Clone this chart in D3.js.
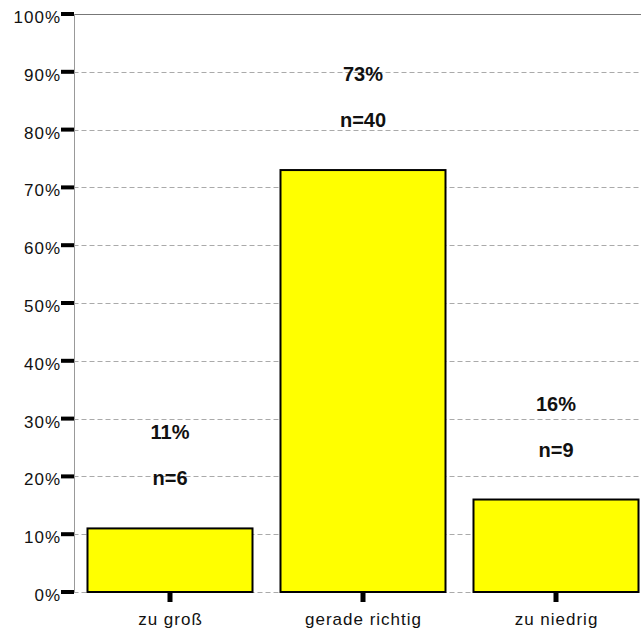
<!DOCTYPE html>
<html>
<head>
<meta charset="utf-8">
<script src="https://cdn.jsdelivr.net/npm/d3@7"></script>
<style>
  html, body { margin: 0; padding: 0; background: #fff; }
  svg { display: block; }
</style>
</head>
<body>
<script>
// Answer categories, shares (%) and respondent counts
const categories = ["zu groß", "gerade richtig", "zu niedrig"];
const percents = [11, 73, 16];
const counts = [6, 40, 9];
const yTicks = [0, 10, 20, 30, 40, 50, 60, 70, 80, 90, 100];

const W = 641, H = 632;
const plotLeft = 73.5, plotTop = 14, plotBottom = 592;

const svg = d3.select("body").append("svg")
  .attr("width", W).attr("height", H);

const x = d3.scaleBand()
  .domain(categories)
  .range([plotLeft, plotLeft + 579])
  .paddingInner(0.145)
  .paddingOuter(0.0725);

const y = d3.scaleLinear().domain([0, 100]).range([plotBottom, plotTop]);

const font = "Arial, 'Liberation Sans', sans-serif";

// dashed horizontal gridlines
svg.append("g").selectAll("line")
  .data(yTicks)
  .join("line")
  .attr("x1", plotLeft).attr("x2", W)
  .attr("y1", d => Math.round(y(d)) + 0.5)
  .attr("y2", d => Math.round(y(d)) + 0.5)
  .attr("stroke", d => d === 100 ? "#777" : "#aaa")
  .attr("stroke-width", 1)
  .attr("stroke-dasharray", d => d === 100 ? null : "5,3");

// vertical axis line
svg.append("line")
  .attr("x1", Math.round(plotLeft) + 0.5).attr("x2", Math.round(plotLeft) + 0.5)
  .attr("y1", y(100)).attr("y2", y(0))
  .attr("stroke", "#999").attr("stroke-width", 1);

// y axis: heavy tick marks and percent labels
const yAxis = svg.append("g");
yAxis.selectAll("rect")
  .data(yTicks)
  .join("rect")
  .attr("x", 61).attr("width", 13)
  .attr("y", d => y(d) - 2).attr("height", 4)
  .attr("fill", "#000");
yAxis.selectAll("text")
  .data(yTicks)
  .join("text")
  .attr("x", 61)
  .attr("y", d => y(d) + 9)
  .attr("text-anchor", "end")
  .attr("font-family", font)
  .attr("font-size", 17)
  .attr("letter-spacing", 1)
  .attr("fill", "#111")
  .text(d => d + "%");

// bars
svg.append("g").selectAll("rect")
  .data(categories)
  .join("rect")
  .attr("x", d => x(d))
  .attr("width", x.bandwidth())
  .attr("y", (d, i) => y(percents[i]))
  .attr("height", (d, i) => y(0) - y(percents[i]))
  .attr("fill", "#ffff00")
  .attr("stroke", "#000")
  .attr("stroke-width", 2);

// x axis: heavy tick marks and category labels
const xAxis = svg.append("g");
xAxis.selectAll("rect")
  .data(categories)
  .join("rect")
  .attr("x", d => x(d) + x.bandwidth() / 2 - 2.5)
  .attr("width", 5)
  .attr("y", plotBottom).attr("height", 10)
  .attr("fill", "#000");
xAxis.selectAll("text")
  .data(categories)
  .join("text")
  .attr("x", d => x(d) + x.bandwidth() / 2 + 0.5)
  .attr("y", 625)
  .attr("text-anchor", "middle")
  .attr("font-family", font)
  .attr("font-size", 17)
  .attr("letter-spacing", 1)
  .attr("fill", "#111")
  .text(d => d);

// value labels above each bar
const labels = svg.append("g")
  .attr("font-family", font)
  .attr("font-size", 20)
  .attr("font-weight", "bold")
  .attr("text-anchor", "middle")
  .attr("fill", "#111");
labels.selectAll("text.pct")
  .data(categories)
  .join("text")
  .attr("class", "pct")
  .attr("x", d => x(d) + x.bandwidth() / 2)
  .attr("y", (d, i) => y(percents[i]) - 89)
  .text((d, i) => percents[i] + "%");
labels.selectAll("text.n")
  .data(categories)
  .join("text")
  .attr("class", "n")
  .attr("x", d => x(d) + x.bandwidth() / 2)
  .attr("y", (d, i) => y(percents[i]) - 43)
  .text((d, i) => "n=" + counts[i]);
</script>
</body>
</html>
